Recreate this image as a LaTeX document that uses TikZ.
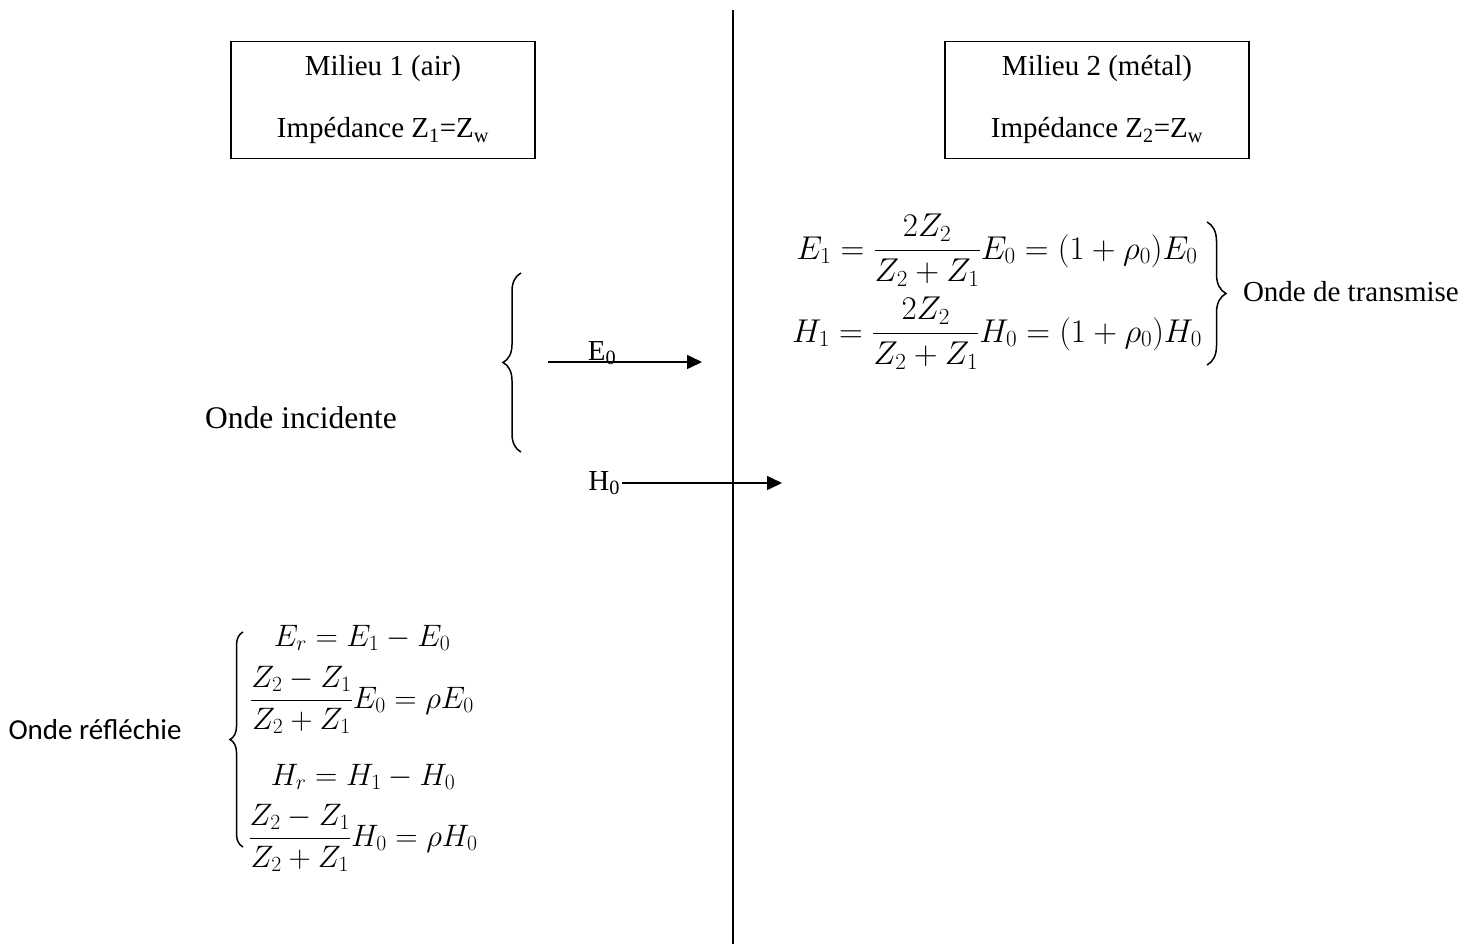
\RequirePackage{fix-cm}
\documentclass[tikz,border=0pt]{standalone}
\usepackage{amsmath}
\usepackage{fontspec}
\setmainfont{Liberation Serif}
\newfontfamily\calib{Carlito}
\usetikzlibrary{arrows.meta,decorations.pathreplacing}
\begin{document}
\begin{tikzpicture}[x=1pt,y=-1pt,
  every node/.style={inner sep=0pt, outer sep=0pt},
  milieu/.style={draw, line width=1.5pt, minimum width=304pt, minimum height=117pt, align=center, font=\fontsize{29}{62}\selectfont},
  lbl/.style={font=\fontsize{29}{35}\selectfont},
  eq/.style={font=\fontsize{31}{37}\selectfont, anchor=base},
  teq/.style={font=\fontsize{33}{40}\selectfont, anchor=base},
  arr/.style={line width=1.5pt, -{Triangle[length=15pt,width=14pt]}},
  brc/.style={decorate, line width=1.5pt, decoration={brace, amplitude=#1}},
  sep/.style={line width=1.5pt}
]
\useasboundingbox (0,0) rectangle (1480,944);

% separating line
\coordinate (lt) at (733,10);
\coordinate (lb) at (733,944);
\draw[sep] (lt) -- (lb);

% media boxes
\node[milieu] (m1) at (383,100) {Milieu 1 (air)\\Impédance Z\textsubscript{1}=Z\textsubscript{w}};
\node[milieu] (m2) at (1097,100) {Milieu 2 (métal)\\Impédance Z\textsubscript{2}=Z\textsubscript{w}};

% incident wave
\node[font=\fontsize{31.5}{38}\selectfont] (inc) at (301,418) {Onde incidente};
\coordinate (ib1) at (521,452);
\coordinate (ib2) at (521,273);
\draw[brc=18pt] (ib1) -- (ib2);

\coordinate (e0s) at (548,362);
\coordinate (e0e) at (702,362);
\draw[arr] (e0s) -- (e0e);
\node[lbl, anchor=base] (e0) at (602,360) {E\textsubscript{0}};

\node[lbl, anchor=east] (h0) at (620,483) {H\textsubscript{0}};
\coordinate (h0e) at (782,483);
\draw[arr] ([xshift=2pt]h0.east) -- (h0e);

% transmitted wave
\node[teq] (t1) at (997,259) {$E_1 = \dfrac{2Z_2}{Z_2+Z_1}E_0 = (1+\rho_0)E_0$};
\node[teq] (t2) at (997,342) {$H_1 = \dfrac{2Z_2}{Z_2+Z_1}H_0 = (1+\rho_0)H_0$};
\coordinate (tb1) at (1207,222);
\coordinate (tb2) at (1207,365);
\draw[brc=19pt] (tb1) -- (tb2);
\node[lbl, anchor=west] (tr) at (1243,292) {Onde de transmise};

% reflected wave
\node[font=\calib\fontsize{29}{35}\selectfont] (ref) at (95,730) {Onde réfléchie};
\coordinate (rb1) at (243,847);
\coordinate (rb2) at (243,632);
\draw[brc=13pt] (rb1) -- (rb2);
\node[eq] (r1) at (362,646) {$E_r = E_1 - E_0$};
\node[eq] (r2) at (362,708) {$\dfrac{Z_2-Z_1}{Z_2+Z_1}E_0 = \rho E_0$};
\node[eq] (r3) at (363,785) {$H_r = H_1 - H_0$};
\node[eq] (r4) at (363,846) {$\dfrac{Z_2-Z_1}{Z_2+Z_1}H_0 = \rho H_0$};
\end{tikzpicture}
\end{document}
